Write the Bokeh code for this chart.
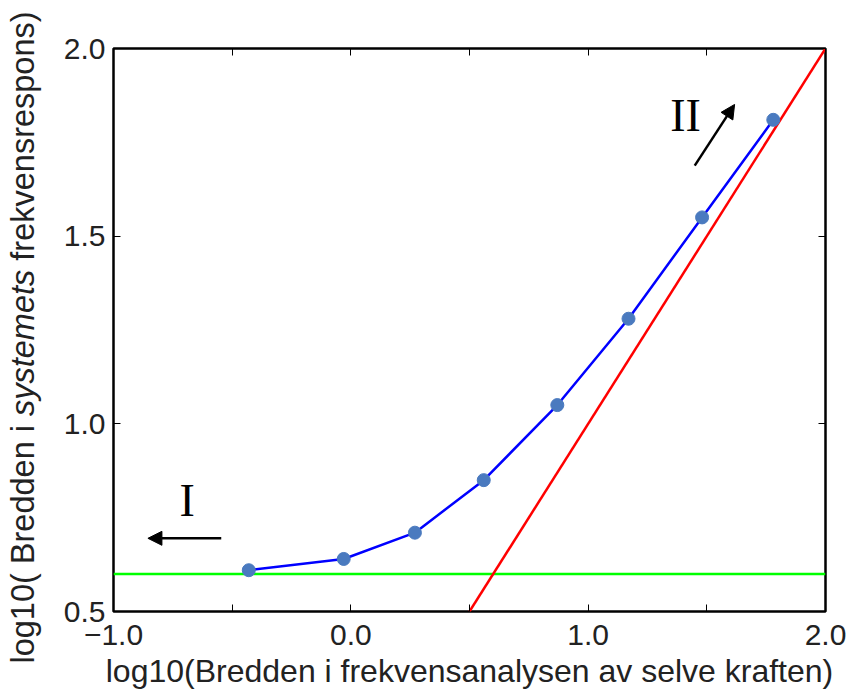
import numpy as np
from bokeh.plotting import figure
from bokeh.layouts import row, column
from bokeh.models import (Range1d, FixedTicker, LinearAxis, Label, Arrow, NormalHead)
from bokeh.embed import file_html
from bokeh.resources import INLINE

# ---- data ----
x_pts = [-0.43, -0.03, 0.27, 0.56, 0.87, 1.17, 1.48, 1.78]
y_pts = [0.61, 0.64, 0.71, 0.85, 1.05, 1.28, 1.55, 1.81]

green_x = [-1.0, 2.0]
green_y = [0.6, 0.6]

red_x = [0.5, 2.0]
red_y = [0.5, 2.0]

x_ticks = [-1.0, -0.5, 0.0, 0.5, 1.0, 1.5, 2.0]
x_tick_labels = {-1.0: "\u22121.0", -0.5: "", 0.0: "0.0", 0.5: "", 1.0: "1.0", 1.5: "", 2.0: "2.0"}
y_ticks = [0.5, 1.0, 1.5, 2.0]
y_tick_labels = {0.5: "0.5", 1.0: "1.0", 1.5: "1.5", 2.0: "2.0"}

arrow_I = dict(x_start=-0.546, y_start=0.695, x_end=-0.855, y_end=0.695)
arrow_II = dict(x_start=1.449, y_start=1.688, x_end=1.617, y_end=1.851)
text_I = (-0.69, 0.795, "I")
text_II = (1.41, 1.822, "II")

x_label = "log10(Bredden i frekvensanalysen av selve kraften)"
y_label_parts = ["log10( Bredden i", "systemets", "frekvensrespons)"]
y_label_styles = ["normal", "italic", "normal"]

FONT = "Liberation Sans"
SERIF = "Liberation Serif"
H = 693
LEFT_W = 60

# ---- narrow left panel carrying the y-axis title (with italic word) ----
lp = figure(width=LEFT_W, height=H, output_backend="svg", toolbar_location=None,
            x_range=Range1d(0, LEFT_W), y_range=Range1d(0, H), title=None,
            min_border=0, min_border_left=0, min_border_right=0,
            min_border_top=0, min_border_bottom=0)
lp.axis.visible = False
lp.grid.visible = False
lp.outline_line_color = None
lp.background_fill_color = "white"
lp.border_fill_color = "white"

ylab_font_px = 32.5
# em widths (Arial metrics) of each piece incl. the following space
piece_em = [7.337 + 0.278, 4.501 + 0.278, 7.669]
start = 30.0
for part, st, em in zip(y_label_parts, y_label_styles, piece_em):
    lp.add_layout(Label(x=22, y=start, x_units="screen", y_units="screen", text=part,
                        angle=np.pi / 2, text_font=FONT, text_font_size=f"{ylab_font_px}px",
                        text_font_style=st, text_align="left", text_baseline="middle",
                        text_color="#222222"))
    start += em * ylab_font_px

# ---- main plot ----
p = figure(width=850 - LEFT_W, height=H, output_backend="svg", toolbar_location=None,
           x_range=Range1d(-1.0, 2.0), y_range=Range1d(0.5, 2.0),
           min_border_left=113 - LEFT_W, min_border_right=25, min_border_top=48, min_border_bottom=82)
p.grid.visible = False
p.outline_line_color = "black"
p.outline_line_width = 2.5
p.background_fill_color = "white"
p.border_fill_color = "white"

def style_axis(ax, ticks, labels, show_labels=True):
    ax.ticker = FixedTicker(ticks=ticks)
    ax.axis_line_color = None
    ax.major_tick_in = 7
    ax.major_tick_out = 0
    ax.major_tick_line_color = "black"
    ax.major_tick_line_width = 1
    ax.minor_tick_line_color = None
    if show_labels:
        ax.major_label_overrides = labels
        ax.major_label_text_font = FONT
        ax.major_label_text_font_size = "30px"
        ax.major_label_text_color = "#222222"
    else:
        ax.major_label_overrides = {t: "" for t in ticks}
        ax.major_label_text_font_size = "1px"
        ax.major_label_standoff = 0

xa = p.xaxis[0]
style_axis(xa, x_ticks, x_tick_labels)
xa.major_label_standoff = 13
xa.axis_label = x_label
xa.axis_label_text_font = FONT
xa.axis_label_text_font_size = "32px"
xa.axis_label_text_font_style = "normal"
xa.axis_label_text_color = "#222222"
xa.axis_label_standoff = 5

ya = p.yaxis[0]
style_axis(ya, y_ticks, y_tick_labels)
ya.major_label_standoff = 8

top_ax = LinearAxis()
style_axis(top_ax, x_ticks, x_tick_labels, show_labels=False)
p.add_layout(top_ax, "above")
right_ax = LinearAxis()
style_axis(right_ax, y_ticks, y_tick_labels, show_labels=False)
p.add_layout(right_ax, "right")

# lines
p.line(green_x, green_y, line_color="#00ff00", line_width=2.5)
p.line(red_x, red_y, line_color="#ff0000", line_width=2.5)
p.line(x_pts, y_pts, line_color="#0000ff", line_width=2.5)
p.scatter(x_pts, y_pts, size=13, fill_color="#4a7abf", line_color="#4a7abf")

# arrows
for a in (arrow_I, arrow_II):
    p.add_layout(Arrow(end=NormalHead(size=14, fill_color="black", line_color="black", line_width=1),
                       line_color="black", line_width=2.5, **a))

for tx, ty, tt in (text_I, text_II):
    p.add_layout(Label(x=tx, y=ty, text=tt, text_font=SERIF, text_font_size="46px",
                       text_align="center", text_baseline="alphabetic", text_color="black"))

layout = row(column(lp), column(p), spacing=0)
open("out.html", "w").write(file_html(layout, INLINE))
